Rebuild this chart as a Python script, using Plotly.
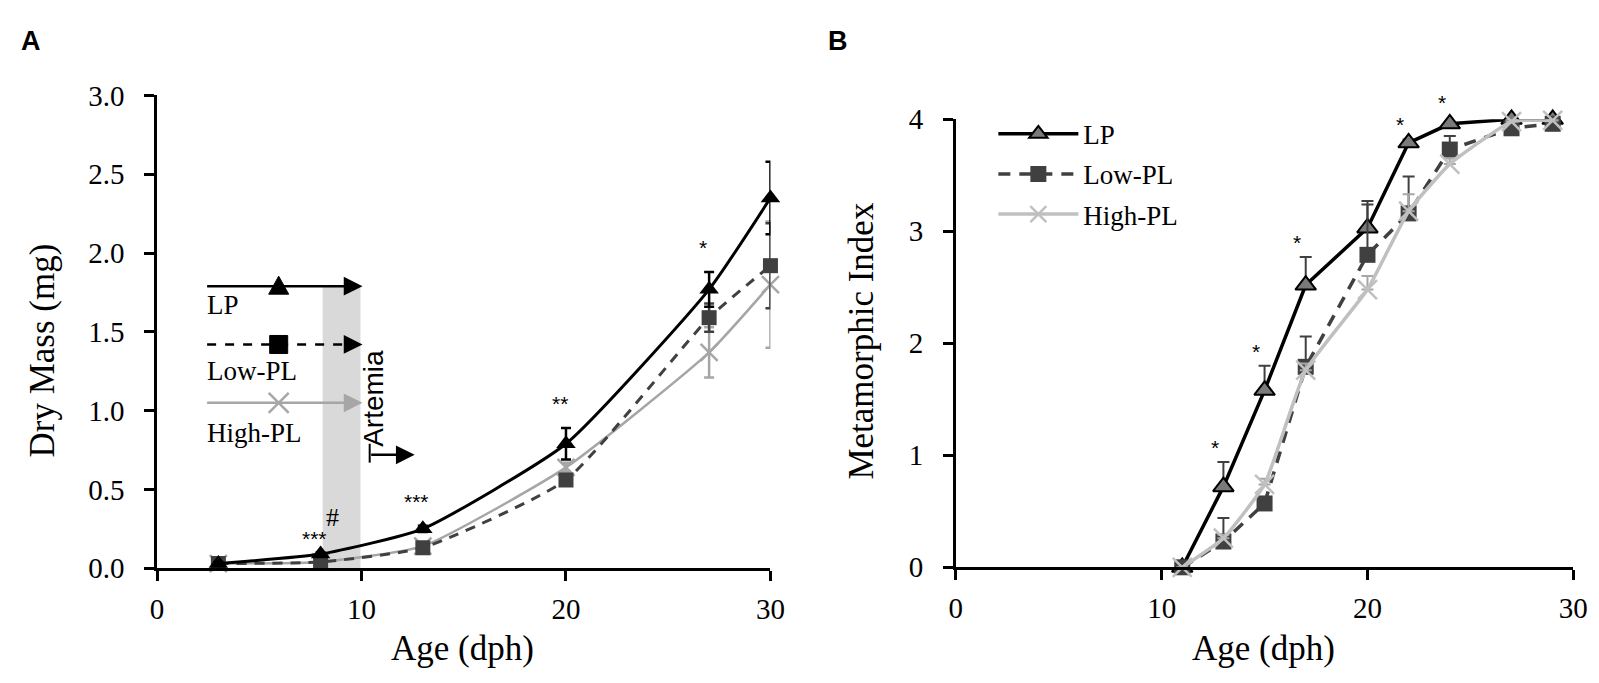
import plotly.graph_objects as go

# ---- Panel A: dry mass (mg) ----
age_a = [3, 8, 13, 20, 27, 30]
lp_mass = [0.03, 0.09, 0.25, 0.79, 1.77, 2.35]
lp_mass_err = [0.01, 0.01, 0.02, 0.10, 0.11, 0.23]
low_mass = [0.03, 0.04, 0.13, 0.56, 1.59, 1.92]
low_mass_err = [0.01, 0.01, 0.02, 0.03, 0.09, 0.27]
high_mass = [0.03, 0.04, 0.14, 0.64, 1.37, 1.80]
high_mass_err = [0.01, 0.01, 0.02, 0.03, 0.16, 0.40]
sig_a_age = [8, 13, 20, 27]
sig_a_txt = ["***", "***", "**", "*"]

# ---- Panel B: metamorphic index ----
age_b = [11, 13, 15, 17, 20, 22, 24, 27, 29]
lp_mi = [0, 0.72, 1.58, 2.52, 3.03, 3.79, 3.96, 4.0, 4.0]
lp_mi_err = [0, 0.22, 0.22, 0.25, 0.24, 0.03, 0.06, 0.02, 0.02]
low_mi = [0, 0.23, 0.57, 1.79, 2.79, 3.16, 3.73, 3.92, 3.96]
low_mi_err = [0, 0.21, 0.04, 0.27, 0.45, 0.33, 0.12, 0.05, 0.03]
high_mi = [0, 0.26, 0.74, 1.76, 2.48, 3.18, 3.60, 3.98, 3.99]
high_mi_err = [0, 0.03, 0.05, 0.06, 0.12, 0.15, 0.05, 0.02, 0.01]
sig_b_age = [13, 15, 17, 22, 24]

series = ["LP", "Low-PL", "High-PL"]

BLACK = "#000000"
DARK = "#404040"
MID = "#7a7a7a"
LIGHT = "#a6a6a6"
LIGHT_B = "#c0c0c0"
SERIF = "Liberation Serif"
SANS = "Liberation Sans"
W, H = 1599, 683
MI_MAX = 4


def px(x):
    return x / W


def py(y):
    return 1 - y / H


fig = go.Figure()

# panel A traces
fig.add_trace(go.Scatter(
    x=age_a, y=high_mass, name=series[2], mode="lines+markers",
    line=dict(color=LIGHT, width=2.5, shape="spline", smoothing=0.5),
    marker=dict(symbol="x-thin", size=17, line=dict(color=LIGHT, width=2.5)),
    error_y=dict(type="data", array=high_mass_err, color=LIGHT, thickness=2.5, width=5),
    xaxis="x", yaxis="y", showlegend=False, cliponaxis=False))
fig.add_trace(go.Scatter(
    x=age_a, y=low_mass, name=series[1], mode="lines+markers",
    line=dict(color=DARK, width=3, dash="10px,8px", shape="spline", smoothing=0.5),
    marker=dict(symbol="square", size=15, color=DARK),
    error_y=dict(type="data", array=low_mass_err, color=DARK, thickness=2.5, width=5),
    xaxis="x", yaxis="y", showlegend=False, cliponaxis=False))
fig.add_trace(go.Scatter(
    x=age_a, y=lp_mass, name=series[0], mode="lines+markers",
    line=dict(color=BLACK, width=3, shape="spline", smoothing=0.5),
    marker=dict(symbol="triangle-up", size=17, color=BLACK),
    error_y=dict(type="data", array=lp_mass_err, color=BLACK, thickness=2.5, width=5),
    xaxis="x", yaxis="y", showlegend=False, cliponaxis=False))

# panel B traces
zeros = [0] * len(age_b)
fig.add_trace(go.Scatter(
    x=age_b, y=lp_mi, name=series[0], mode="lines+markers", legendgroup="a",
    line=dict(color=BLACK, width=3.5),
    marker=dict(symbol="triangle-up", size=18, color=MID, line=dict(color=BLACK, width=2)),
    error_y=dict(type="data", array=lp_mi_err, arrayminus=zeros, color=DARK, thickness=2, width=6),
    xaxis="x2", yaxis="y2", cliponaxis=False))
fig.add_trace(go.Scatter(
    x=age_b, y=low_mi, name=series[1], mode="lines+markers", legendgroup="b",
    line=dict(color=DARK, width=3.5, dash="12px,9px"),
    marker=dict(symbol="square", size=16, color=DARK),
    error_y=dict(type="data", array=low_mi_err, arrayminus=zeros, color=DARK, thickness=2, width=6),
    xaxis="x2", yaxis="y2", cliponaxis=False))
fig.add_trace(go.Scatter(
    x=age_b, y=high_mi, name=series[2], mode="lines+markers", legendgroup="c",
    line=dict(color=LIGHT_B, width=3.5, shape="spline", smoothing=0.4),
    marker=dict(symbol="x-thin", size=19, line=dict(color=LIGHT_B, width=2.5)),
    error_y=dict(type="data", array=high_mi_err, arrayminus=zeros, color=LIGHT, thickness=2, width=6),
    xaxis="x2", yaxis="y2", cliponaxis=False))

ann = []
# significance marks, panel A
for a, t in zip(sig_a_age, sig_a_txt):
    i = age_a.index(a)
    top = lp_mass[i] + lp_mass_err[i]
    ann.append(dict(x=a - 0.3, y=top + (0.0 if a == 8 else 0.07), text=t, xref="x", yref="y",
                    showarrow=False, xanchor="center", yanchor="bottom",
                    font=dict(family=SANS, size=21, color=BLACK)))
ann.append(dict(x=8.6, y=lp_mass[1] + lp_mass_err[1] + 0.12, text="#", xref="x", yref="y",
                showarrow=False, xanchor="center", yanchor="bottom",
                font=dict(family=SERIF, size=26, color=BLACK)))
# significance marks, panel B (domain coords so marks above the top still show)
for a in sig_b_age:
    i = age_b.index(a)
    ann.append(dict(x=a - 0.4, y=(lp_mi[i] + lp_mi_err[i] + 0.01) / MI_MAX, text="*",
                    xref="x2", yref="y2 domain", showarrow=False, xanchor="center", yanchor="bottom",
                    font=dict(family=SANS, size=21, color=BLACK)))

# feeding-regime key in panel A
shapes = [dict(type="rect", xref="x", yref="y", x0=8.1, x1=9.95, y0=0, y1=1.79,
               fillcolor="#d9d9d9", line=dict(width=0), layer="below")]
key_rows = [(1.79, BLACK, "solid", 1.67), (1.42, BLACK, "dash", 1.25), (1.05, LIGHT, "solid", 0.86)]
KEY_X = 5.95
for (ky, col, dash, ty), name in zip(key_rows, series):
    shapes.append(dict(type="line", xref="x", yref="y", x0=2.45, x1=9.5, y0=ky, y1=ky,
                       line=dict(color=col, width=2.5, dash=dash)))
    ann.append(dict(x=10.05, y=ky, ax=9.2, ay=ky, xref="x", yref="y", axref="x", ayref="y",
                    showarrow=True, arrowhead=2, arrowsize=1.5, arrowwidth=2.5, arrowcolor=col, text=""))
    ann.append(dict(x=2.35, y=ty, text=name, xref="x", yref="y", showarrow=False,
                    xanchor="left", yanchor="middle", font=dict(family=SERIF, size=27, color=BLACK)))
# key glyphs drawn as pixel-sized shapes anchored on the key lines
glyph = dict(xref="x", yref="y", xsizemode="pixel", ysizemode="pixel", xanchor=KEY_X)
shapes.append(dict(type="path", path="M -10,-8 L 10,-8 L 0,10 Z", yanchor=key_rows[0][0],
                   fillcolor=BLACK, line=dict(color=BLACK, width=1), **glyph))
shapes.append(dict(type="rect", x0=-9, x1=9, y0=-9, y1=9, yanchor=key_rows[1][0],
                   fillcolor=BLACK, line=dict(color=BLACK, width=1), **glyph))
for s in (1, -1):
    shapes.append(dict(type="line", x0=-10, x1=10, y0=-10 * s, y1=10 * s, yanchor=key_rows[2][0],
                       line=dict(color=LIGHT, width=2.5), **glyph))

ann.append(dict(x=9.75, y=0.76, text="Artemia", xref="x", yref="y", showarrow=False, textangle=-90,
                xanchor="left", yanchor="bottom", font=dict(family=SANS, size=28, color=BLACK)))
shapes.append(dict(type="line", xref="x", yref="y", x0=10.4, x1=10.4, y0=0.67, y1=0.79,
                   line=dict(color=BLACK, width=2)))
ann.append(dict(x=12.6, y=0.72, ax=10.4, ay=0.72, xref="x", yref="y", axref="x", ayref="y",
                showarrow=True, arrowhead=2, arrowsize=1.5, arrowwidth=2.5, arrowcolor=BLACK, text=""))

# titles and panel letters (explicit anchors: paper 'auto' anchoring shifts them)
title_font = dict(family=SERIF, size=35, color=BLACK)
letter_font = dict(family=SANS, size=27, color=BLACK)
paper_text = [
    (16, 18, "<b>A</b>", 0, letter_font),
    (834, 18, "<b>B</b>", 0, letter_font),
    (454, 655, "Age (dph)", 0, title_font),
    (1266, 655, "Age (dph)", 0, title_font),
    (28, 343, "Dry Mass (mg)", -90, title_font),
    (858, 333, "Metamorphic Index", -90, title_font),
]
for tx, ty, txt, ang, fnt in paper_text:
    ann.append(dict(x=px(tx), y=py(ty), xref="paper", yref="paper", text=txt, showarrow=False,
                    textangle=ang, xanchor="center", yanchor="middle", font=fnt))

axis_common = dict(showline=True, linewidth=2.5, linecolor=BLACK, ticks="outside", ticklen=10,
                   tickwidth=2.5, tickcolor=BLACK, showgrid=False, zeroline=False,
                   tickfont=dict(family=SERIF, size=29, color=BLACK))

fig.update_layout(
    width=W, height=H, paper_bgcolor="white", plot_bgcolor="white",
    margin=dict(l=0, r=0, t=0, b=0),
    xaxis=dict(domain=[px(144), px(766)], range=[0, 30], dtick=10, anchor="y",
               ticklabelstandoff=3, **axis_common),
    yaxis=dict(domain=[py(571), py(75)], range=[0, 3], dtick=0.5, tickformat=".1f",
               anchor="x", ticklabelstandoff=14, **axis_common),
    xaxis2=dict(domain=[px(954), px(1580)], range=[0, 30], dtick=10, anchor="y2",
                ticklabelstandoff=3, **axis_common),
    yaxis2=dict(domain=[py(570), py(100)], range=[0, MI_MAX], dtick=1, anchor="x2",
                ticklabelstandoff=14, **axis_common),
    legend=dict(x=px(992), y=py(90), xanchor="left", yanchor="top", bgcolor="rgba(0,0,0,0)",
                font=dict(family=SERIF, size=27, color=BLACK), itemwidth=80, tracegroupgap=2),
    annotations=ann, shapes=shapes,
)

fig.write_html("out.html")
